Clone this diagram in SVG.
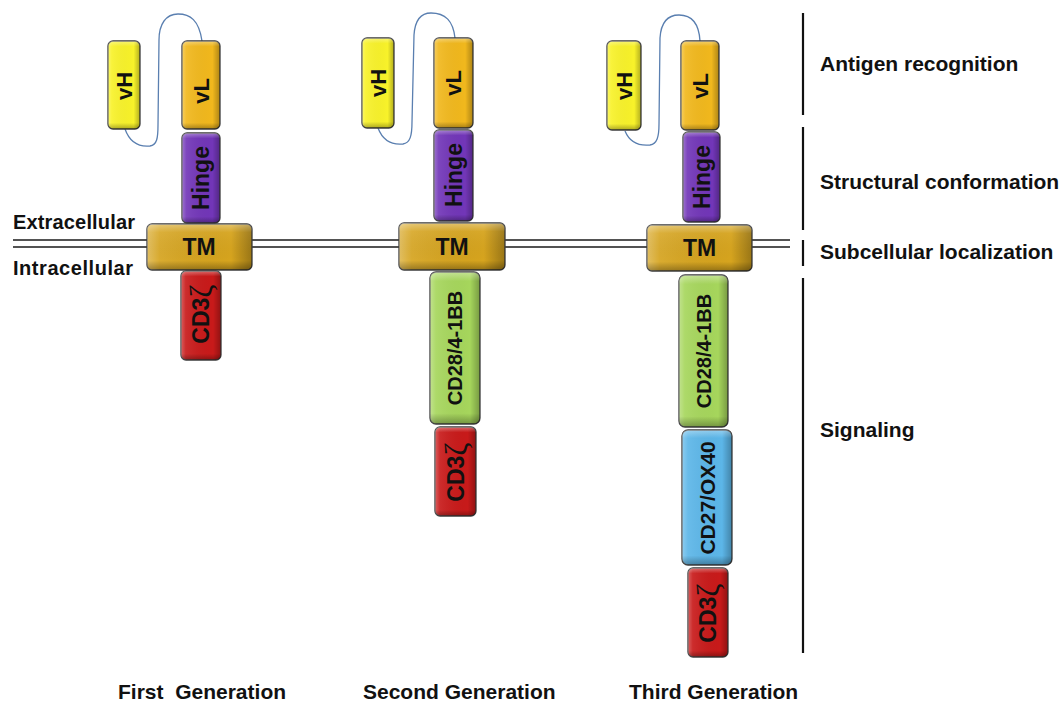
<svg xmlns="http://www.w3.org/2000/svg" width="1063" height="702" viewBox="0 0 1063 702">
<defs>
<linearGradient id="gh" x1="0" y1="0" x2="1" y2="0">
<stop offset="0" stop-color="#fff" stop-opacity="0.3"/>
<stop offset="0.12" stop-color="#fff" stop-opacity="0.08"/>
<stop offset="0.8" stop-color="#000" stop-opacity="0"/>
<stop offset="1" stop-color="#000" stop-opacity="0.28"/>
</linearGradient>
<linearGradient id="gv" x1="0" y1="0" x2="0" y2="1">
<stop offset="0" stop-color="#fff" stop-opacity="0.35"/>
<stop offset="0.06" stop-color="#fff" stop-opacity="0"/>
<stop offset="0.93" stop-color="#000" stop-opacity="0"/>
<stop offset="1" stop-color="#000" stop-opacity="0.3"/>
</linearGradient>
<linearGradient id="gvt" x1="0" y1="0" x2="0" y2="1">
<stop offset="0" stop-color="#fff" stop-opacity="0.35"/>
<stop offset="0.18" stop-color="#fff" stop-opacity="0.05"/>
<stop offset="0.8" stop-color="#000" stop-opacity="0"/>
<stop offset="1" stop-color="#000" stop-opacity="0.3"/>
</linearGradient>
</defs>
<style>
.b{stroke:#3d3d3d;stroke-width:1.3}
.o1{fill:url(#gh);stroke:none}
.o2{fill:url(#gv);stroke:none}
.o3{fill:url(#gvt);stroke:none}
.vh{fill:#F8F22A}
.vl{fill:#F1B81D}
.hi{fill:#7236B8}
.tm{fill:#D6A41E}
.cd3{fill:#C81A1A}
.cd28{fill:#A6D65C}
.cd27{fill:#5CB6E8}
text{font-family:"Liberation Sans",Arial,sans-serif;font-weight:bold;fill:#111}
.lab{font-size:21px}
.bt{font-size:21px;white-space:pre}
.in{font-size:22px;text-anchor:middle;dominant-baseline:central}
.tmt{font-size:23px;text-anchor:middle}
.z{font-family:"Liberation Serif","DejaVu Serif",serif;font-weight:normal;font-size:32px}
.loop{fill:none;stroke:#5A7FB0;stroke-width:1.3}
.mem{stroke:#1a1a1a;stroke-width:1.6}
.br{stroke:#111;stroke-width:2.2}
</style>

<g id="membrane">
<line class="mem" x1="13" y1="240" x2="790" y2="240"/>
<line class="mem" x1="13" y1="247" x2="790" y2="247"/>
</g>

<g id="brackets">
<line class="br" x1="803" y1="13" x2="803" y2="115"/>
<line class="br" x1="803" y1="127" x2="803" y2="230"/>
<line class="br" x1="803" y1="240" x2="803" y2="266"/>
<line class="br" x1="803" y1="278" x2="803" y2="653"/>
</g>

<g id="connectors">
<path class="loop" d="M125,129 C130,143 140,147 150,146 C157,145 158,138 158,125 L159,40 C159,24 166,14 178,14 C190,14 199,20 202,41"/>
<path class="loop" d="M378,128 C383,141 393,145 403,144 C410,143 412,136 412,122 L414,35 C415,20 421,13 431,13 C445,13 453,20 455,38"/>
<path class="loop" d="M625,131 C630,143 640,146 650,145 C657,144 659,137 659,124 L660,38 C661,22 668,15 679,15 C692,15 699,24 700,41"/>
</g>

<!-- First generation -->
<g id="g1-vH"><rect class="b vh" x="108" y="41" width="32" height="88" rx="5"/><rect class="o1" x="108" y="41" width="32" height="88" rx="5"/><rect class="o2" x="108" y="41" width="32" height="88" rx="5"/><text class="in" transform="translate(124,86) rotate(-90)">vH</text></g>
<g id="g1-vL"><rect class="b vl" x="182" y="41" width="38" height="88" rx="5"/><rect class="o1" x="182" y="41" width="38" height="88" rx="5"/><rect class="o2" x="182" y="41" width="38" height="88" rx="5"/><text class="in" transform="translate(201,91) rotate(-90)">vL</text></g>
<g id="g1-hinge"><rect class="b hi" x="182" y="133" width="38" height="90" rx="5"/><rect class="o1" x="182" y="133" width="38" height="90" rx="5"/><rect class="o2" x="182" y="133" width="38" height="90" rx="5"/><text class="in" style="font-size:23px" transform="translate(201,178) rotate(-90)">Hinge</text></g>
<g id="g1-tm"><rect class="b tm" x="147" y="224" width="105" height="46" rx="5"/><rect class="o1" x="147" y="224" width="105" height="46" rx="5"/><rect class="o3" x="147" y="224" width="105" height="46" rx="5"/><text class="tmt" x="199" y="255">TM</text></g>
<g id="g1-cd3z"><rect class="b cd3" x="181" y="271" width="40" height="89" rx="5"/><rect class="o1" x="181" y="271" width="40" height="89" rx="5"/><rect class="o2" x="181" y="271" width="40" height="89" rx="5"/><text class="in" style="font-size:23px" transform="translate(201,314) rotate(-90)">CD3<tspan class="z">ζ</tspan></text></g>

<!-- Second generation -->
<g id="g2-vH"><rect class="b vh" x="362" y="38" width="32" height="90" rx="5"/><rect class="o1" x="362" y="38" width="32" height="90" rx="5"/><rect class="o2" x="362" y="38" width="32" height="90" rx="5"/><text class="in" transform="translate(378,83) rotate(-90)">vH</text></g>
<g id="g2-vL"><rect class="b vl" x="434" y="38" width="39" height="90" rx="5"/><rect class="o1" x="434" y="38" width="39" height="90" rx="5"/><rect class="o2" x="434" y="38" width="39" height="90" rx="5"/><text class="in" transform="translate(453.5,83) rotate(-90)">vL</text></g>
<g id="g2-hinge"><rect class="b hi" x="434" y="130" width="39" height="91" rx="5"/><rect class="o1" x="434" y="130" width="39" height="91" rx="5"/><rect class="o2" x="434" y="130" width="39" height="91" rx="5"/><text class="in" style="font-size:23px" transform="translate(453.5,175) rotate(-90)">Hinge</text></g>
<g id="g2-tm"><rect class="b tm" x="399" y="223" width="106" height="47" rx="5"/><rect class="o1" x="399" y="223" width="106" height="47" rx="5"/><rect class="o3" x="399" y="223" width="106" height="47" rx="5"/><text class="tmt" x="452" y="255">TM</text></g>
<g id="g2-cd28"><rect class="b cd28" x="430" y="272" width="50" height="152" rx="6"/><rect class="o1" x="430" y="272" width="50" height="152" rx="6"/><rect class="o2" x="430" y="272" width="50" height="152" rx="6"/><text class="in" style="font-size:20px" transform="translate(455,348) rotate(-90)">CD28/4-1BB</text></g>
<g id="g2-cd3z"><rect class="b cd3" x="435" y="427" width="41" height="89" rx="5"/><rect class="o1" x="435" y="427" width="41" height="89" rx="5"/><rect class="o2" x="435" y="427" width="41" height="89" rx="5"/><text class="in" style="font-size:23px" transform="translate(455.5,472) rotate(-90)">CD3<tspan class="z">ζ</tspan></text></g>

<!-- Third generation -->
<g id="g3-vH"><rect class="b vh" x="607" y="41" width="34" height="89" rx="5"/><rect class="o1" x="607" y="41" width="34" height="89" rx="5"/><rect class="o2" x="607" y="41" width="34" height="89" rx="5"/><text class="in" transform="translate(624,86) rotate(-90)">vH</text></g>
<g id="g3-vL"><rect class="b vl" x="681" y="41" width="38" height="89" rx="5"/><rect class="o1" x="681" y="41" width="38" height="89" rx="5"/><rect class="o2" x="681" y="41" width="38" height="89" rx="5"/><text class="in" transform="translate(700,86) rotate(-90)">vL</text></g>
<g id="g3-hinge"><rect class="b hi" x="683" y="132" width="37" height="90" rx="5"/><rect class="o1" x="683" y="132" width="37" height="90" rx="5"/><rect class="o2" x="683" y="132" width="37" height="90" rx="5"/><text class="in" style="font-size:23px" transform="translate(701.5,177) rotate(-90)">Hinge</text></g>
<g id="g3-tm"><rect class="b tm" x="647" y="225" width="105" height="46" rx="5"/><rect class="o1" x="647" y="225" width="105" height="46" rx="5"/><rect class="o3" x="647" y="225" width="105" height="46" rx="5"/><text class="tmt" x="699.5" y="256">TM</text></g>
<g id="g3-cd28"><rect class="b cd28" x="679" y="275" width="49" height="152" rx="6"/><rect class="o1" x="679" y="275" width="49" height="152" rx="6"/><rect class="o2" x="679" y="275" width="49" height="152" rx="6"/><text class="in" style="font-size:20px" transform="translate(703.5,351) rotate(-90)">CD28/4-1BB</text></g>
<g id="g3-cd27"><rect class="b cd27" x="682" y="430" width="50" height="135" rx="6"/><rect class="o1" x="682" y="430" width="50" height="135" rx="6"/><rect class="o2" x="682" y="430" width="50" height="135" rx="6"/><text class="in" style="font-size:21px" transform="translate(707,498) rotate(-90)">CD27/OX40</text></g>
<g id="g3-cd3z"><rect class="b cd3" x="688" y="568" width="40" height="89" rx="5"/><rect class="o1" x="688" y="568" width="40" height="89" rx="5"/><rect class="o2" x="688" y="568" width="40" height="89" rx="5"/><text class="in" style="font-size:23px" transform="translate(708,613) rotate(-90)">CD3<tspan class="z">ζ</tspan></text></g>

<g id="labels">
<text class="lab" x="13" y="229" textLength="122" style="font-size:20px">Extracellular</text>
<text class="lab" x="13" y="275" textLength="120" style="font-size:20px">Intracellular</text>
<text class="lab" x="820" y="71">Antigen recognition</text>
<text class="lab" x="820" y="189">Structural conformation</text>
<text class="lab" x="820" y="259">Subcellular localization</text>
<text class="lab" x="820" y="437">Signaling</text>
<text class="bt" x="118" y="699">First  Generation</text>
<text class="bt" x="363" y="699">Second Generation</text>
<text class="bt" x="629" y="699">Third Generation</text>
</g>
</svg>
